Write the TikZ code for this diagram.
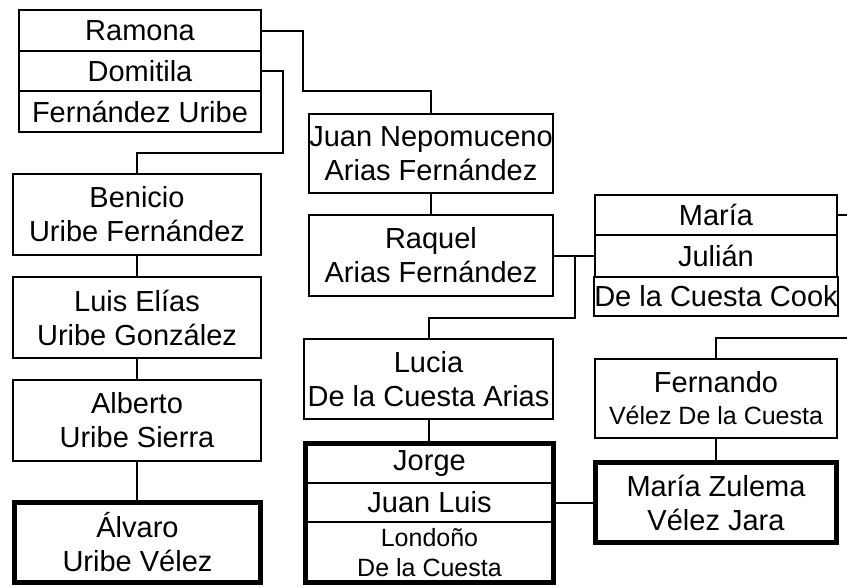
\documentclass[tikz,border=0pt]{standalone}
\usepackage{fontspec}
\setmainfont{Liberation Sans}
\newcommand{\bigf}{\fontsize{29}{34}\selectfont}
\newcommand{\smf}{\fontsize{25}{30}\selectfont}
\begin{document}
\begin{tikzpicture}[x=1pt,y=-1pt,
  pbox/.style={draw, line width=2pt, inner sep=0pt, outer sep=0pt, align=center, font=\bigf},
  tbox/.style={pbox, line width=5pt},
  link/.style={line width=2pt}]
\useasboundingbox (0,0) rectangle (847,587);
% left top group
\node[pbox, minimum width=242pt, minimum height=41pt] (ramona) at (140,30.5) {Ramona};
\node[pbox, minimum width=242pt, minimum height=40pt] (domitila) at (140,71) {Domitila};
\node[pbox, minimum width=242pt, minimum height=41pt] (fu) at (140,111.5) {Fernández Uribe};
% left column
\node[pbox, minimum width=248pt, minimum height=81pt] (benicio) at (137,214.5) {Benicio\\Uribe Fernández};
\node[pbox, minimum width=248pt, minimum height=81pt] (luis) at (137,317.5) {Luis Elías\\Uribe González};
\node[pbox, minimum width=248pt, minimum height=81pt] (alberto) at (137,420.5) {Alberto\\Uribe Sierra};
\node[tbox, minimum width=246pt, minimum height=80pt] (alvaro) at (137.5,542.5) {Álvaro\\Uribe Vélez};
% middle column
\node[pbox, minimum width=244pt, minimum height=79pt] (juan) at (431,153.5) {Juan Nepomuceno\\Arias Fernández};
\node[pbox, minimum width=244pt, minimum height=81pt] (raquel) at (431,255.5) {Raquel\\Arias Fernández};
\node[pbox, minimum width=249pt, minimum height=80pt] (lucia) at (428.5,379) {Lucia\\De la Cuesta Arias};
\node[pbox, minimum width=248pt, minimum height=39.5pt] (jorge) at (429.5,463.25) {Jorge};
\node[pbox, minimum width=248pt, minimum height=39pt] (juanluis) at (429.5,502.5) {Juan Luis};
\node[pbox, minimum width=248pt, minimum height=60.5pt, font=\smf] (londono) at (429.5,552.25) {Londoño\\De la Cuesta};
\draw[line width=5pt] (jorge.north west) rectangle (londono.south east);
% right column
\node[pbox, minimum width=242pt, minimum height=40pt] (maria) at (716,215) {María};
\node[pbox, minimum width=242pt, minimum height=42pt] (julian) at (716,256) {Julián};
\node[pbox, minimum width=242pt, minimum height=39pt] (dlcc) at (716,296.5) {De la Cuesta Cook};
\node[pbox, minimum width=242pt, minimum height=79pt] (fernando) at (716,398.5) {Fernando\\[-2pt]{\smf Vélez De la Cuesta}};
\node[tbox, minimum width=241pt, minimum height=80pt] (mz) at (716,502.5) {María Zulema\\Vélez Jara};
% coordinates
\coordinate (r1) at (303,91);
\coordinate (d1) at (283,153);
\coordinate (q1) at (575,318);
\coordinate (m1) at (847,215);
\coordinate (f1) at (847,338);
% connectors
\draw[link] (ramona.east) -| (r1) -| (juan.north);
\draw[link] (domitila.east) -| (d1) -| (benicio.north);
\draw[link] (benicio.south) -- (luis.north);
\draw[link] (luis.south) -- (alberto.north);
\draw[link] (alberto.south) -- (alberto.south |- alvaro.north);
\draw[link] (juan.south) -- (raquel.north);
\draw[link] (raquel.east) -- (raquel.east -| julian.west);
\draw[link] (raquel.east -| q1) -- (q1) -| (lucia.north);
\draw[link] (lucia.south) -- (lucia.south |- jorge.north);
\draw[link] (juanluis.east) -- (mz.west);
\draw[link] (maria.east) -- (m1);
\draw[link] (fernando.north) |- (f1);
\draw[link] (fernando.south) -- (mz.north);
\end{tikzpicture}
\end{document}
